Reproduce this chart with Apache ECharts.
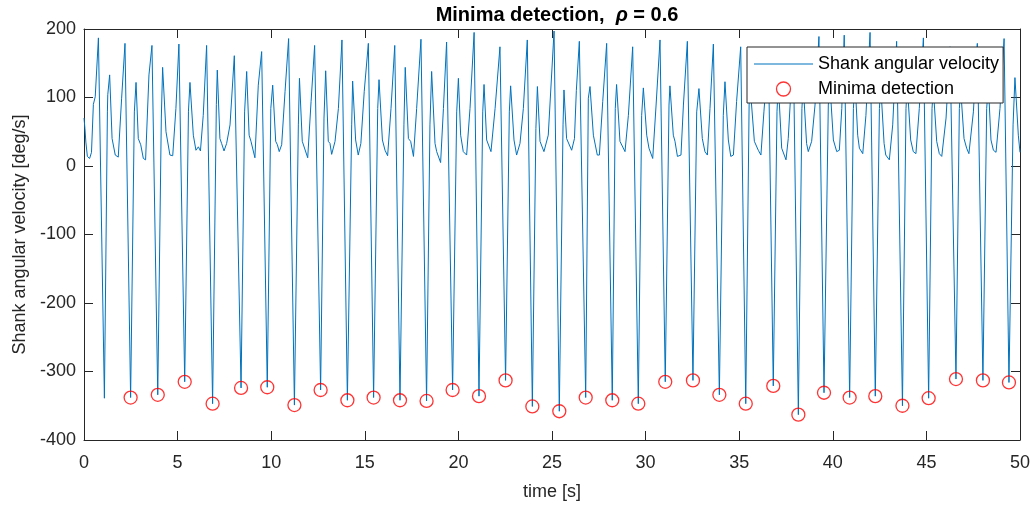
<!DOCTYPE html>
<html>
<head>
<meta charset="utf-8">
<title>Minima detection</title>
<script src="https://cdn.jsdelivr.net/npm/echarts@6/dist/echarts.min.js"></script>
<style>
  html, body { margin: 0; padding: 0; background: #fff; }
  #chart { width: 1036px; height: 513px; }
</style>
</head>
<body>
<div id="chart"></div>
<script>
// shank angular velocity, [time s, deg/s]
const signal = [
  [0, 70], [0.05, 55], [0.1, 35], [0.18, 14], [0.3, 11], [0.4, 20], [0.5, 90], [0.6, 101], [0.77, 187], [1.09, -339],
  [1.25, 79], [1.27, 104], [1.37, 133], [1.5, 40], [1.57, 38], [1.67, 16], [1.83, 13], [2.01, 99], [2.19, 179], [2.49, -338],
  [2.69, 79], [2.78, 122], [2.9, 40], [3.03, 31], [3.17, 11], [3.29, 9], [3.47, 133], [3.63, 176], [3.94, -334],
  [4.13, 70], [4.2, 144], [4.38, 50], [4.59, 16], [4.74, 15], [4.91, 84], [5.07, 178], [5.38, -315],
  [5.58, 80], [5.66, 122], [5.84, 45], [5.98, 23], [6.11, 28], [6.22, 22], [6.37, 74], [6.55, 176], [6.87, -347],
  [7.07, 90], [7.12, 140], [7.26, 40], [7.35, 33], [7.48, 22], [7.62, 33], [7.8, 60], [8.03, 161], [8.39, -324],
  [8.58, 79], [8.69, 138], [8.82, 45], [8.92, 36], [9.13, 12], [9.31, 118], [9.49, 167], [9.79, -323],
  [9.98, 84], [10.08, 118], [10.24, 36], [10.33, 31], [10.43, 21], [10.56, 31], [10.74, 109], [10.93, 186], [11.24, -349],
  [11.45, 60], [11.51, 128], [11.66, 36], [11.75, 38], [11.95, 12], [12.13, 94], [12.32, 176], [12.64, -327],
  [12.82, 70], [12.91, 139], [13.05, 36], [13.14, 33], [13.23, 17], [13.41, 36], [13.59, 84], [13.78, 184], [14.07, -342],
  [14.3, 60], [14.35, 124], [14.51, 38], [14.65, 16], [14.79, 33], [14.97, 109], [15.19, 179], [15.47, -338],
  [15.69, 84], [15.76, 126], [15.94, 38], [16.08, 23], [16.22, 15], [16.4, 84], [16.6, 176], [16.88, -342],
  [17.09, 60], [17.16, 144], [17.33, 40], [17.45, 36], [17.6, 14], [17.77, 84], [18.0, 185], [18.3, -343],
  [18.48, 60], [18.57, 138], [18.75, 33], [18.84, 21], [18.93, 19], [19.05, 5], [19.2, 84], [19.37, 181], [19.69, -327],
  [19.91, 79], [20.0, 128], [20.12, 45], [20.26, 21], [20.44, 16], [20.62, 84], [20.84, 195], [21.1, -336],
  [21.3, 79], [21.37, 119], [21.51, 38], [21.6, 36], [21.74, 21], [21.96, 84], [22.22, 174], [22.52, -313],
  [22.72, 79], [22.79, 117], [22.97, 38], [23.11, 16], [23.29, 33], [23.47, 84], [23.68, 184], [23.95, -351],
  [24.14, 55], [24.22, 116], [24.36, 36], [24.45, 36], [24.57, 21], [24.8, 45], [25.11, 197], [25.39, -358],
  [25.59, 60], [25.64, 111], [25.78, 40], [25.87, 38], [26.05, 23], [26.2, 40], [26.3, 110], [26.46, 182], [26.8, -338],
  [26.94, 99], [27.03, 116], [27.21, 45], [27.3, 45], [27.42, 16], [27.53, 16], [27.71, 94], [27.92, 179], [28.22, -342],
  [28.38, 84], [28.45, 119], [28.63, 36], [28.72, 36], [28.9, 21], [29.08, 74], [29.31, 174], [29.61, -347],
  [29.79, 74], [29.88, 114], [30.06, 45], [30.18, 26], [30.38, 11], [30.56, 89], [30.77, 184], [31.05, -315],
  [31.25, 89], [31.3, 117], [31.48, 45], [31.57, 36], [31.7, 14], [31.89, 16], [32.02, 89], [32.23, 182], [32.53, -313],
  [32.73, 79], [32.85, 113], [33.03, 40], [33.17, 21], [33.3, 16], [33.44, 84], [33.62, 178], [33.94, -334],
  [34.15, 74], [34.24, 123], [34.42, 38], [34.55, 14], [34.69, 16], [34.86, 94], [35.08, 174], [35.35, -347],
  [35.53, 89], [35.58, 118], [35.81, 36], [36.02, 23], [36.16, 16], [36.32, 79], [36.56, 165], [36.82, -321],
  [37.02, 80], [37.09, 120], [37.27, 26], [37.5, 9], [37.62, 40], [37.89, 173], [38.16, -363],
  [38.35, 84], [38.42, 118], [38.6, 33], [38.69, 21], [38.87, 36], [39.05, 89], [39.26, 189], [39.53, -331],
  [39.76, 89], [39.85, 118], [40.03, 38], [40.21, 21], [40.35, 23], [40.48, 84], [40.61, 191], [40.9, -338],
  [41.1, 84], [41.19, 123], [41.33, 45], [41.42, 26], [41.6, 18], [41.77, 74], [41.99, 195], [42.27, -336],
  [42.49, 84], [42.56, 118], [42.74, 33], [42.83, 16], [43.02, 9], [43.2, 60], [43.41, 182], [43.72, -350],
  [43.91, 84], [43.98, 118], [44.16, 38], [44.3, 21], [44.44, 18], [44.62, 84], [44.84, 187], [45.12, -339],
  [45.3, 84], [45.37, 113], [45.55, 36], [45.69, 18], [45.82, 14], [46.05, 70], [46.26, 174], [46.58, -311],
  [46.76, 84], [46.83, 113], [47.01, 40], [47.15, 26], [47.27, 18], [47.51, 79], [47.72, 179], [48.02, -313],
  [48.22, 84], [48.31, 118], [48.45, 38], [48.58, 23], [48.72, 20], [48.93, 84], [49.15, 186], [49.41, -316],
  [49.63, 60], [49.73, 129], [49.91, 45], [50.0, 20]
]

// detected minima
const minimaTime = [2.49, 3.94, 5.38, 6.87, 8.39, 9.79, 11.24, 12.64, 14.07, 15.47, 16.88, 18.3,
  19.69, 21.1, 22.52, 23.95, 25.39, 26.8, 28.22, 29.61, 31.05, 32.53, 33.94, 35.35, 36.82, 38.16,
  39.53, 40.9, 42.27, 43.72, 45.12, 46.58, 48.02, 49.41]
const minimaValue = [-338, -334, -315, -347, -324, -323, -349, -327, -342, -338, -342, -343,
  -327, -336, -313, -351, -358, -338, -342, -347, -315, -313, -334, -347, -321, -363,
  -331, -338, -336, -350, -339, -311, -313, -316]

const xTicks = { min: 0, max: 50, interval: 5 }
const yTicks = { min: -400, max: 200, interval: 100 }

const font = '"Liberation Sans", Arial, Helvetica, sans-serif'
const axisColor = '#262626'

const chart = echarts.init(document.getElementById('chart'))

// MATLAB style box: ticks inside on all four sides
const boxAxis = (extra) => Object.assign({
  type: 'value',
  axisLine: { show: true, onZero: false, lineStyle: { color: axisColor, width: 1 } },
  axisTick: { show: true, inside: true, length: 9, lineStyle: { color: axisColor, width: 1 } },
  splitLine: { show: false },
}, extra)

const option = {
  animation: false,
  backgroundColor: '#fff',
  textStyle: { fontFamily: font },
  title: {
    text: '{b|Minima detection,  }{i|ρ}{b| = 0.6}',
    left: 552,
    textAlign: 'center',
    top: 0,
    textStyle: {
      rich: {
        b: { fontSize: 20, fontWeight: 'bold', color: '#000', fontFamily: font },
        i: { fontSize: 20, fontWeight: 'bold', fontStyle: 'italic', color: '#000', fontFamily: font },
      },
    },
  },
  legend: {
    orient: 'vertical',
    left: 747,
    top: 47,
    padding: [8, 4, 5, 7],
    itemGap: 7,
    itemWidth: 59,
    itemHeight: 14,
    backgroundColor: '#fff',
    borderColor: axisColor,
    borderWidth: 1,
    borderRadius: 0,
    textStyle: { fontSize: 18, color: '#000', fontFamily: font },
    data: [
      {
        name: 'Shank angular velocity',
        icon: 'path://M0,0 L59,0 L59,1 L0,1 Z',
        itemStyle: { color: '#0072BD' },
      },
      {
        name: 'Minima detection',
        icon: 'circle',
        itemStyle: { color: 'rgba(0,0,0,0)', borderColor: '#ff0000', borderWidth: 1.3 },
      },
    ],
  },
  grid: { left: 84, right: 16, top: 29, bottom: 73 },
  xAxis: [
    boxAxis({
      ...xTicks,
      position: 'bottom',
      name: 'time [s]',
      nameLocation: 'middle',
      nameGap: 43,
      nameTextStyle: { fontSize: 18, color: axisColor, fontFamily: font },
      axisLabel: { fontSize: 18, color: axisColor, margin: 14, fontFamily: font },
    }),
    boxAxis({ ...xTicks, position: 'top', axisLabel: { show: false } }),
  ],
  yAxis: [
    boxAxis({
      ...yTicks,
      position: 'left',
      name: 'Shank angular velocity [deg/s]',
      nameLocation: 'middle',
      nameGap: 55,
      nameTextStyle: { fontSize: 18, color: axisColor, fontFamily: font },
      axisLabel: { fontSize: 18, color: axisColor, margin: 8, fontFamily: font },
    }),
    boxAxis({ ...yTicks, position: 'right', axisLabel: { show: false } }),
  ],
  series: [
    {
      name: 'Shank angular velocity',
      type: 'line',
      data: signal,
      symbol: 'none',
      color: '#0072BD',
      lineStyle: { color: '#0072BD', width: 1 },
      z: 2,
    },
    {
      name: 'Minima detection',
      type: 'scatter',
      data: minimaTime.map((t, i) => [t, minimaValue[i]]),
      symbol: 'circle',
      symbolSize: 13,
      color: '#ff0000',
      itemStyle: { color: 'rgba(0,0,0,0)', borderColor: '#ff0000', borderWidth: 1.3 },
      z: 3,
    },
  ],
}

chart.setOption(option)
</script>
</body>
</html>
